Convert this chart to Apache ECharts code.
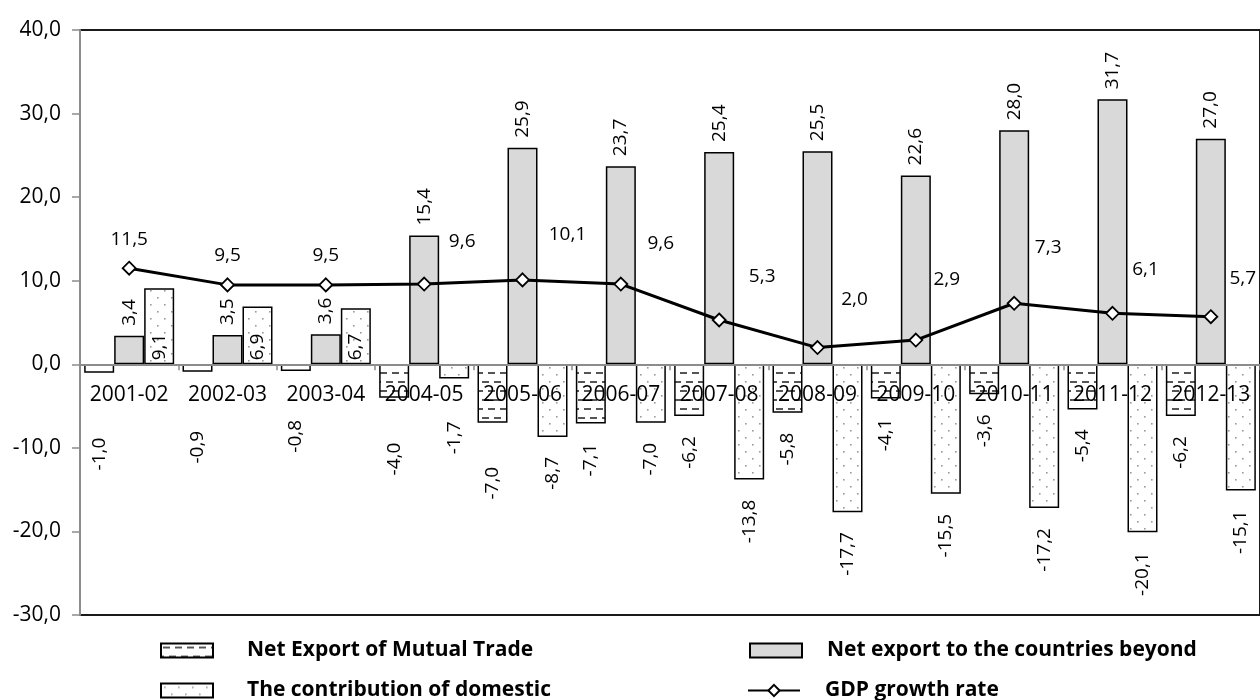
<!DOCTYPE html>
<html>
<head>
<meta charset="utf-8">
<script src="https://cdn.jsdelivr.net/npm/echarts@6/dist/echarts.min.js"></script>
<style>
html,body{margin:0;padding:0;background:#fff;}
#chart{width:1260px;height:700px;}
</style>
</head>
<body>
<div id="chart"></div>
<script>
// ---- data ----
const categories = ['2001-02','2002-03','2003-04','2004-05','2005-06','2006-07','2007-08','2008-09','2009-10','2010-11','2011-12','2012-13'];
const mutualTrade = [-1.0,-0.9,-0.8,-4.0,-7.0,-7.1,-6.2,-5.8,-4.1,-3.6,-5.4,-6.2];
const beyondExport = [3.4,3.5,3.6,15.4,25.9,23.7,25.4,25.5,22.6,28.0,31.7,27.0];
const domesticContribution = [9.1,6.9,6.7,-1.7,-8.7,-7.0,-13.8,-17.7,-15.5,-17.2,-20.1,-15.1];
const gdpGrowth = [11.5,9.5,9.5,9.6,10.1,9.6,5.3,2.0,2.9,7.3,6.1,5.7];
const seriesNames = ['Net Export of Mutual Trade','Net export to the countries beyond','The contribution of domestic','GDP growth rate'];
const yTicks = {min:-30, max:40, interval:10};

// ---- styling tables (not data) ----
const mutualExtraDist = {0:65, 1:59, 2:49, 3:45, 4:44};
const domesticExtraDist = {3:43};
const gdpLabelShift = [[0,0],[0,0],[0,0],[38,-22],[45,-24],[40,-20],[43,-22],[37,-27],[31,-40],[34,-35],[33,-23],[32,-17]];

const FONT = '"Open Sans", "DejaVu Sans", sans-serif';
const fmt = v => v.toFixed(1).replace('.', ',');

// grid geometry
const GRID_TOP = 30, GRID_H = 585;
const zeroOffset = GRID_H * (yTicks.max - 0) / (yTicks.max - yTicks.min) - GRID_H; // negative: move axis up to value 0

function makePattern(kind){
  const c = document.createElement('canvas');
  const ctx = c.getContext('2d');
  if(kind === 'dash'){
    c.width = 12; c.height = 18;
    ctx.fillStyle = '#fff'; ctx.fillRect(0,0,12,18);
    ctx.fillStyle = '#555';
    ctx.fillRect(2,3,7,2);
    ctx.fillRect(8,12,4,2); ctx.fillRect(0,12,3,2);
  } else {
    c.width = 14; c.height = 14;
    ctx.fillStyle = '#fff'; ctx.fillRect(0,0,14,14);
    ctx.fillStyle = '#9a9a9a';
    ctx.fillRect(3,3,1.6,1.6);
    ctx.fillRect(10,10,1.6,1.6);
  }
  return {image:c, repeat:'repeat'};
}

const labelBase = {show:true, rotate:90, fontSize:19, color:'#000', fontFamily:FONT, formatter:p => fmt(p.value)};

function barData(values, posCfg, negDist, extra){
  return values.map((v,i) => {
    let label;
    if(v >= 0){
      label = Object.assign({}, labelBase, posCfg);
    } else {
      label = Object.assign({}, labelBase, {position:'bottom', distance: (extra && extra[i]) ? extra[i] : negDist, align:'right', verticalAlign:'middle'});
    }
    return {value:v, label:label};
  });
}

const barItem = (fill) => ({color:fill, borderColor:'#000', borderWidth:1.5});

// legend placement: [left, top, text left padding]
const legendPlace = [[160,640,29],[749,640,20],[160,680,29],[747,680,20]];

const chart = echarts.init(document.getElementById('chart'));
const option = {
  animation:false,
  backgroundColor:'#fff',
  grid:{left:80, top:GRID_TOP, height:GRID_H, width:1194, show:true, borderColor:'#1a1a1a', borderWidth:2, backgroundColor:'transparent'},
  xAxis:{
    type:'category', data:categories, z:10, position:'bottom', offset:zeroOffset,
    axisLine:{show:true, onZero:false, lineStyle:{color:'#8c8c8c', width:2}},
    axisTick:{show:true, length:6, lineStyle:{color:'#8c8c8c', width:1.5}},
    axisLabel:{fontSize:21, color:'#000', fontFamily:FONT, margin:20, interval:0},
    splitLine:{show:false}
  },
  yAxis:{
    type:'value', min:yTicks.min, max:yTicks.max, interval:yTicks.interval,
    axisLine:{show:true, lineStyle:{color:'#8c8c8c', width:2}},
    axisTick:{show:true, length:8, lineStyle:{color:'#8c8c8c', width:1.5}},
    axisLabel:{fontSize:21, color:'#000', fontFamily:FONT, margin:19, formatter:v => fmt(v)},
    splitLine:{show:false}
  },
  legend:seriesNames.map((name,k) => ({
    data:[k < 3 ? {name:name, icon:'rect'} : name],
    left:legendPlace[k][0], top:legendPlace[k][1],
    orient:'horizontal', itemWidth:52, itemHeight:14, itemGap:0, padding:0, selectedMode:false,
    textStyle:{fontSize:21, fontWeight:'bold', color:'#000', fontFamily:FONT, padding:[0,0,0,legendPlace[k][2]]}
  })),
  series:[
    {
      name:seriesNames[0], type:'bar', barWidth:30, barGap:'0%',
      itemStyle:barItem(makePattern('dash')),
      data:barData(mutualTrade, {position:'top', distance:12, align:'left', verticalAlign:'middle'}, 20, mutualExtraDist)
    },
    {
      name:seriesNames[1], type:'bar', barWidth:30, barGap:'0%',
      itemStyle:barItem('#d9d9d9'),
      data:barData(beyondExport, {position:'top', distance:10, align:'left', verticalAlign:'middle'}, 20, null)
    },
    {
      name:seriesNames[2], type:'bar', barWidth:30, barGap:'0%',
      itemStyle:barItem(makePattern('dot')),
      data:barData(domesticContribution, {position:'insideBottom', distance:4, align:'left', verticalAlign:'middle'}, 20, domesticExtraDist)
    },
    {
      name:seriesNames[3], type:'line', z:5,
      symbol:'diamond', symbolSize:[13,13],
      lineStyle:{color:'#000', width:3},
      itemStyle:{color:'#fff', borderColor:'#000', borderWidth:1.8},
      data:gdpGrowth.map((v,i) => ({
        value:v,
        label:{show:true, position:'top', distance: i<3 ? 12 : 4, offset:gdpLabelShift[i], fontSize:19, color:'#000', fontFamily:FONT, formatter:p => fmt(p.value)}
      }))
    }
  ]
};
chart.setOption(option);
</script>
</body>
</html>
